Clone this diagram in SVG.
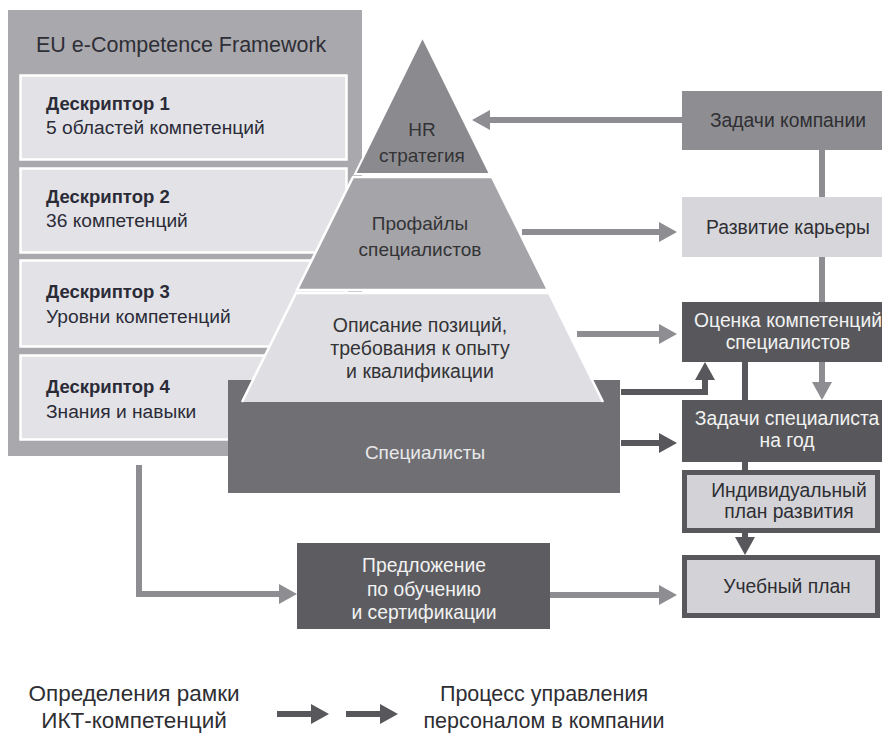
<svg xmlns="http://www.w3.org/2000/svg" width="882" height="739" viewBox="0 0 882 739">
<style>
text{font-family:"Liberation Sans","DejaVu Sans",sans-serif;}
.dt{fill:#2b2b38;font-size:19.2px;}
.db{fill:#2b2b38;font-size:18.5px;font-weight:bold;}
.pt{fill:#333336;font-size:19px;text-anchor:middle;}
.rt{fill:#2e2e33;font-size:19.3px;text-anchor:middle;}
.wt{fill:#f2f2f2;font-size:19.3px;text-anchor:middle;}
.lg{fill:#2e2e33;font-size:22.5px;text-anchor:middle;}
.desc{fill:#e3e3e7;stroke:#ffffff;stroke-width:2.5;}
.ga{fill:none;stroke:#8e8e92;stroke-width:6;marker-end:url(#mg);}
.gl{fill:none;stroke:#8e8e92;stroke-width:6;}
.da{fill:none;stroke:#58585c;stroke-width:6;marker-end:url(#md);}
.bx{stroke:#58585c;stroke-width:5;fill:#d3d3d7;}
</style>
<defs>
<marker id="mg" markerUnits="userSpaceOnUse" markerWidth="18" markerHeight="20" viewBox="0 0 18 20" refX="1" refY="10" orient="auto"><path d="M0,0 L18,10 L0,20 z" fill="#8e8e92"/></marker>
<marker id="md" markerUnits="userSpaceOnUse" markerWidth="18" markerHeight="20" viewBox="0 0 18 20" refX="1" refY="10" orient="auto"><path d="M0,0 L18,10 L0,20 z" fill="#58585c"/></marker>
</defs>
<rect width="882" height="739" fill="#ffffff"/>

<g id="framework">
<rect x="8" y="10" width="354" height="446" fill="#a9a9ad"/>
<text x="36" y="52" style="font-size:21.5px;fill:#2e2e36">EU e-Competence Framework</text>
</g>
<g id="descriptor1">
<rect class="desc" x="20.5" y="75.5" width="326" height="84"/>
<text class="db" x="46" y="110">Дескриптор 1</text>
<text class="dt" x="46" y="134">5 областей компетенций</text>
</g>
<g id="descriptor2">
<rect class="desc" x="20.5" y="168.5" width="326" height="84"/>
<text class="db" x="46" y="203">Дескриптор 2</text>
<text class="dt" x="46" y="227">36 компетенций</text>
</g>
<g id="descriptor3">
<rect class="desc" x="20.5" y="260.5" width="326" height="86"/>
<text class="db" x="46" y="298">Дескриптор 3</text>
<text class="dt" x="46" y="323">Уровни компетенций</text>
</g>
<g id="descriptor4">
<rect class="desc" x="20.5" y="355.5" width="326" height="84"/>
<text class="db" x="46" y="393">Дескриптор 4</text>
<text class="dt" x="46" y="418">Знания и навыки</text>
</g>

<g id="connectors">
<path class="ga" d="M682,120 H489"/>
<path class="ga" d="M522,232 H660"/>
<path class="ga" d="M577,334 H660"/>
<path class="da" d="M621,392 H705 V379"/>
<path class="da" d="M621,443 H660"/>
<path class="gl" d="M822,150 V197"/>
<path class="ga" d="M822,257 V383"/>
<path class="da" d="M745,362 V538"/>
<path class="ga" d="M139,465 V594 H280"/>
<path class="ga" d="M550,595 H660"/>
</g>

<g id="specialists">
<rect x="228" y="380" width="392" height="113" fill="#707074"/>
<text class="wt" x="425" y="459" style="fill:#e8e8ea;font-size:19px">Специалисты</text>
</g>
<g id="positions">
<polygon points="296,293 549,293 603,402 242,402" fill="#dfdfe3"/>
<polyline points="242,402 296,293 549,293 603,402" fill="none" stroke="#ffffff" stroke-width="2.5"/>
<text class="pt" x="420" y="332" style="font-size:19.5px">Описание позиций,</text>
<text class="pt" x="420" y="355" style="font-size:19.5px">требования к опыту</text>
<text class="pt" x="420" y="378" style="font-size:19.5px">и квалификации</text>
</g>
<g id="profiles">
<polygon points="353,177 492,177 548,290 297,290" fill="#a5a5a9" stroke="#ffffff" stroke-width="2.5"/>
<text class="pt" x="420" y="230">Профайлы</text>
<text class="pt" x="420" y="256">специалистов</text>
</g>
<g id="hr">
<polygon points="422.5,37 490,174 355,174" fill="#8b8b8f" stroke="#ffffff" stroke-width="2"/>
<text class="pt" x="422" y="136">HR</text>
<text class="pt" x="422" y="162">стратегия</text>
</g>

<g id="company-tasks">
<rect x="682" y="91" width="200" height="59" fill="#8e8e92"/>
<text class="rt" x="788" y="127">Задачи компании</text>
</g>
<g id="career">
<rect x="682" y="197" width="200" height="60" fill="#d7d7db"/>
<text class="rt" x="788" y="234">Развитие карьеры</text>
</g>
<g id="assessment">
<rect x="682" y="302" width="200" height="60" fill="#58585c"/>
<text class="wt" x="788" y="327">Оценка компетенций</text>
<text class="wt" x="788" y="349">специалистов</text>
</g>
<g id="annual-tasks">
<rect x="682" y="400" width="200" height="62" fill="#58585c"/>
<text class="wt" x="787" y="425">Задачи специалиста</text>
<text class="wt" x="787" y="447">на год</text>
</g>
<g id="idp">
<rect class="bx" x="684.5" y="472.5" width="193" height="58"/>
<text class="rt" x="789" y="497">Индивидуальный</text>
<text class="rt" x="789" y="518">план развития</text>
</g>
<g id="curriculum">
<rect class="bx" x="684.5" y="557.5" width="193" height="58"/>
<text class="rt" x="787" y="593">Учебный план</text>
</g>
<g id="training-offer">
<rect x="297" y="543" width="253" height="86" fill="#5d5d61"/>
<text class="wt" x="424" y="572">Предложение</text>
<text class="wt" x="424" y="596">по обучению</text>
<text class="wt" x="424" y="619">и сертификации</text>
</g>

<g id="legend">
<text class="lg" x="134" y="701">Определения рамки</text>
<text class="lg" x="134" y="728">ИКТ-компетенций</text>
<path class="da" d="M277,714 H312"/>
<path class="da" d="M346,714 H381"/>
<text class="lg" x="544" y="701" style="font-size:21.5px">Процесс управления</text>
<text class="lg" x="544" y="728" style="font-size:21.5px">персоналом в компании</text>
</g>
</svg>
